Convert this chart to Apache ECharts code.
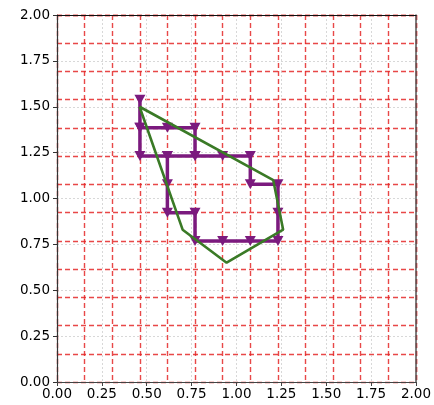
<!DOCTYPE html>
<html>
<head>
<meta charset="utf-8">
<script src="https://cdn.jsdelivr.net/npm/echarts@6/dist/echarts.min.js"></script>
<style>html,body{margin:0;padding:0;background:#fff}#c{width:434px;height:405px}</style>
</head>
<body>
<div id="c"></div>
<script>
// Data
var stepX = [0.462, 0.462, 0.462, 0.615, 0.615, 0.615, 0.769, 0.769, 0.923, 1.077, 1.231, 1.231, 1.231, 1.077, 1.077, 0.923, 0.769, 0.615, 0.769, 0.769, 0.615, 0.462];
var stepY = [1.538, 1.385, 1.231, 1.231, 1.077, 0.923, 0.923, 0.769, 0.769, 0.769, 0.769, 0.923, 1.077, 1.077, 1.231, 1.231, 1.231, 1.231, 1.231, 1.385, 1.385, 1.385];
var polyX = [0.46, 1.205, 1.26, 0.945, 0.70, 0.46];
var polyY = [1.50, 1.10, 0.83, 0.65, 0.83, 1.50];
var axisMin = 0, axisMax = 2, majorStep = 0.25, fineStep = 2 / 13;

function pairs(xs, ys) { return xs.map(function (x, i) { return [x, ys[i]]; }); }

var chart = echarts.init(document.getElementById('c'));
function lbl(margin) {
  return { margin: margin, color: '#000', fontSize: 13.5, fontFamily: 'DejaVu Sans',
           formatter: function (v) { return v.toFixed(2); } };
}
var redLine = { show: true, lineStyle: { color: 'rgba(228,40,40,0.85)', type: [5, 3], width: 1.4 } };
var grayLine = { show: true, lineStyle: { color: '#cfcfcf', type: [2, 2], width: 0.8 } };
chart.setOption({
  animation: false,
  grid: { left: 57, top: 15, right: 10, bottom: 23, show: false },
  xAxis: [
    { type: 'value', min: axisMin, max: axisMax, interval: majorStep,
      axisLine: { show: true, onZero: false, lineStyle: { color: '#444', width: 1.2 } },
      axisTick: { show: true, length: 4, lineStyle: { color: '#444' } },
      axisLabel: lbl(5), splitLine: grayLine },
    { type: 'value', min: axisMin, max: axisMax, interval: fineStep, position: 'top',
      axisLine: { show: true, onZero: false, lineStyle: { color: '#111', width: 1.2 } },
      axisTick: { show: false }, axisLabel: { show: false }, splitLine: redLine }
  ],
  yAxis: [
    { type: 'value', min: axisMin, max: axisMax, interval: majorStep,
      axisLine: { show: true, onZero: false, lineStyle: { color: '#333', width: 1.2 } },
      axisTick: { show: true, length: 4, lineStyle: { color: '#333' } },
      axisLabel: lbl(7), splitLine: grayLine },
    { type: 'value', min: axisMin, max: axisMax, interval: fineStep, position: 'right',
      axisLine: { show: true, onZero: false, lineStyle: { color: '#555', width: 1.5 } },
      axisTick: { show: false }, axisLabel: { show: false }, splitLine: redLine }
  ],
  series: [
    { type: 'line', data: pairs(stepX, stepY), symbol: 'triangle', symbolRotate: 180, symbolSize: [11, 10],
      lineStyle: { color: '#7b1a7e', width: 3.5 }, itemStyle: { color: '#7b1a7e' }, z: 3 },
    { type: 'line', data: pairs(polyX, polyY), symbol: 'none',
      lineStyle: { color: '#3a7a26', width: 2.6 }, z: 4 }
  ]
});
</script>
</body>
</html>
